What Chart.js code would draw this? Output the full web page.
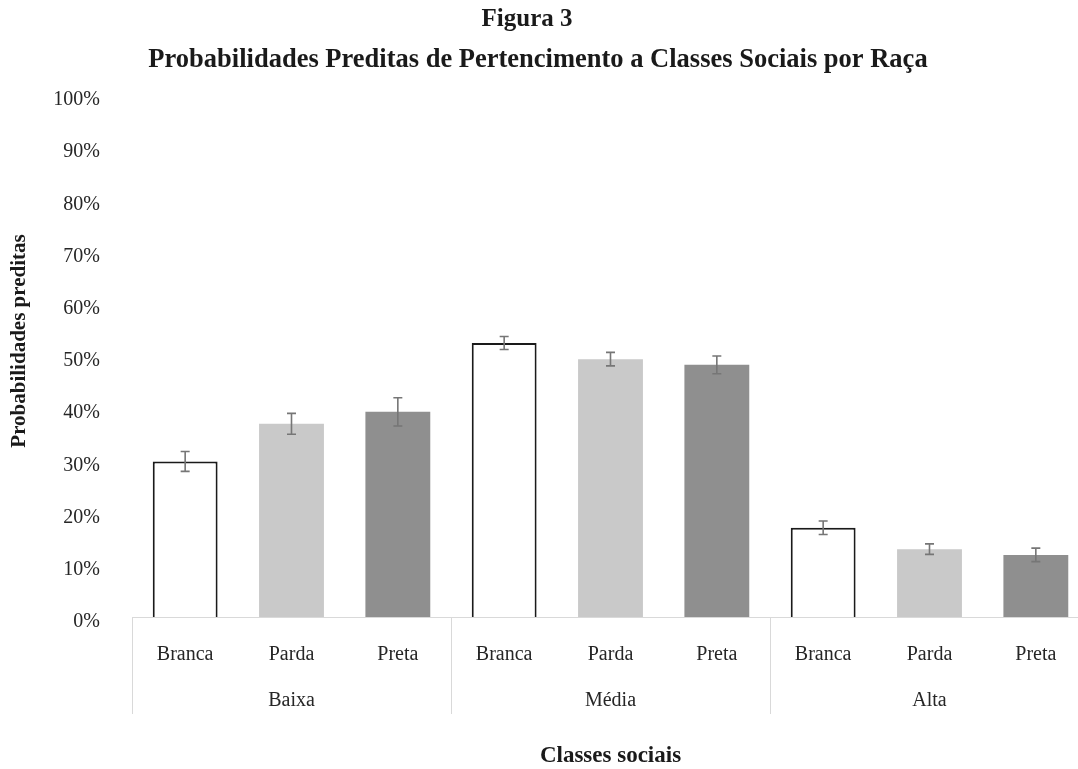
<!DOCTYPE html>
<html lang="pt">
<head>
<meta charset="utf-8">
<title>Figura 3</title>
<script src="https://cdn.jsdelivr.net/npm/chart.js@4.4.1/dist/chart.umd.min.js"></script>
<style>
  html, body { margin: 0; padding: 0; background: #fff; overflow: hidden; }
  #wrap { width: 1100px; height: 769px; }
</style>
</head>
<body>
<div id="wrap"><canvas id="chart" width="1100" height="769"></canvas></div>
<script>
// Racial groups within each social class, and the class groups themselves
const races = ['Branca', 'Parda', 'Preta', 'Branca', 'Parda', 'Preta', 'Branca', 'Parda', 'Preta'];
const classes = ['Baixa', 'Média', 'Alta'];

// Predicted probabilities (%) and half-width of the error bars (%)
const probabilities = [29.8, 37.0, 39.3, 52.5, 49.4, 48.3, 17.1, 13.0, 11.9];
const errorMargins = [1.9, 2.0, 2.7, 1.25, 1.3, 1.7, 1.3, 1.0, 1.3];

// Y-axis tick values
const yTicks = [0, 10, 20, 30, 40, 50, 60, 70, 80, 90, 100];

const titleLines = ['Figura 3', 'Probabilidades Preditas de Pertencimento a Classes Sociais por Raça'];
const yTitle = 'Probabilidades preditas';
const xTitle = 'Classes sociais';

const SERIF = '"Liberation Serif", "Times New Roman", serif';
const fillByRace = { Branca: '#ffffff', Parda: '#c9c9c9', Preta: '#8f8f8f' };
const borderByRace = { Branca: '#1a1a1a', Parda: 'rgba(0,0,0,0)', Preta: 'rgba(0,0,0,0)' };
const borderWidthByRace = { Branca: 2, Parda: 0, Preta: 0 };

// Error bars, group separators, group labels and titles
const decorations = {
  id: 'decorations',
  afterDatasetsDraw(chart) {
    const { ctx, scales: { x, y } } = chart;
    ctx.save();
    ctx.strokeStyle = '#767676';
    ctx.lineWidth = 1.6;
    probabilities.forEach((v, i) => {
      const cx = x.getPixelForValue(i);
      const top = y.getPixelForValue(v + errorMargins[i]);
      const bot = y.getPixelForValue(v - errorMargins[i]);
      ctx.beginPath();
      ctx.moveTo(cx, top); ctx.lineTo(cx, bot);
      ctx.moveTo(cx - 4.5, top); ctx.lineTo(cx + 4.5, top);
      ctx.moveTo(cx - 4.5, bot); ctx.lineTo(cx + 4.5, bot);
      ctx.stroke();
    });
    ctx.restore();
  },
  afterDraw(chart) {
    const { ctx, chartArea, scales: { x } } = chart;
    const n = races.length;
    const step = (x.right - x.left) / n;
    const perGroup = n / classes.length;
    ctx.save();
    // group separators
    ctx.strokeStyle = '#d9d9d9';
    ctx.lineWidth = 1;
    for (let g = 0; g <= classes.length; g++) {
      const px = Math.round(x.left + g * perGroup * step) + 0.5;
      ctx.beginPath();
      ctx.moveTo(px, chartArea.bottom);
      ctx.lineTo(px, 714);
      ctx.stroke();
    }
    // group labels
    ctx.fillStyle = '#262626';
    ctx.font = '20px ' + SERIF;
    ctx.textAlign = 'center';
    ctx.textBaseline = 'middle';
    classes.forEach((c, g) => {
      const cx = x.left + (g + 0.5) * perGroup * step;
      ctx.fillText(c, cx, 701);
    });
    // titles
    ctx.fillStyle = '#1a1a1a';
    ctx.font = 'bold 25px ' + SERIF;
    ctx.fillText(titleLines[0], 527, 20);
    ctx.font = 'bold 26.5px ' + SERIF;
    ctx.fillText(titleLines[1], 538, 60);
    ctx.font = 'bold 23px ' + SERIF;
    ctx.fillText(xTitle, (x.left + x.right) / 2, 756);
    ctx.translate(20, 341);
    ctx.rotate(-Math.PI / 2);
    ctx.font = 'bold 21px ' + SERIF;
    ctx.fillText(yTitle, 0, 0);
    ctx.restore();
  }
};

new Chart(document.getElementById('chart'), {
  type: 'bar',
  data: {
    labels: races,
    datasets: [{
      data: probabilities,
      backgroundColor: races.map(r => fillByRace[r]),
      borderColor: races.map(r => borderByRace[r]),
      borderWidth: races.map(r => borderWidthByRace[r]),
      borderSkipped: 'start',
      barPercentage: 0.61,
      categoryPercentage: 1.0
    }]
  },
  options: {
    responsive: false,
    animation: false,
    events: [],
    layout: { padding: { top: 95, right: 11, left: 0, bottom: 0 } },
    plugins: { legend: { display: false }, tooltip: { enabled: false }, title: { display: false } },
    scales: {
      x: {
        grid: { display: false, drawTicks: false },
        border: { display: true, color: '#d9d9d9', width: 1 },
        ticks: { color: '#262626', font: { family: SERIF, size: 20 }, padding: 26, maxRotation: 0, autoSkip: false },
        afterFit(scale) { scale.height = 769 - 617; }
      },
      y: {
        min: 0,
        max: 100,
        grid: { display: false, drawTicks: false },
        border: { display: false },
        afterBuildTicks(scale) { scale.ticks = yTicks.map(v => ({ value: v })); },
        ticks: {
          color: '#262626',
          font: { family: SERIF, size: 20 },
          padding: 32,
          labelOffset: 5,
          callback: v => v + '%'
        },
        afterFit(scale) { scale.width = 132; }
      }
    }
  },
  plugins: [decorations]
});
</script>
</body>
</html>
